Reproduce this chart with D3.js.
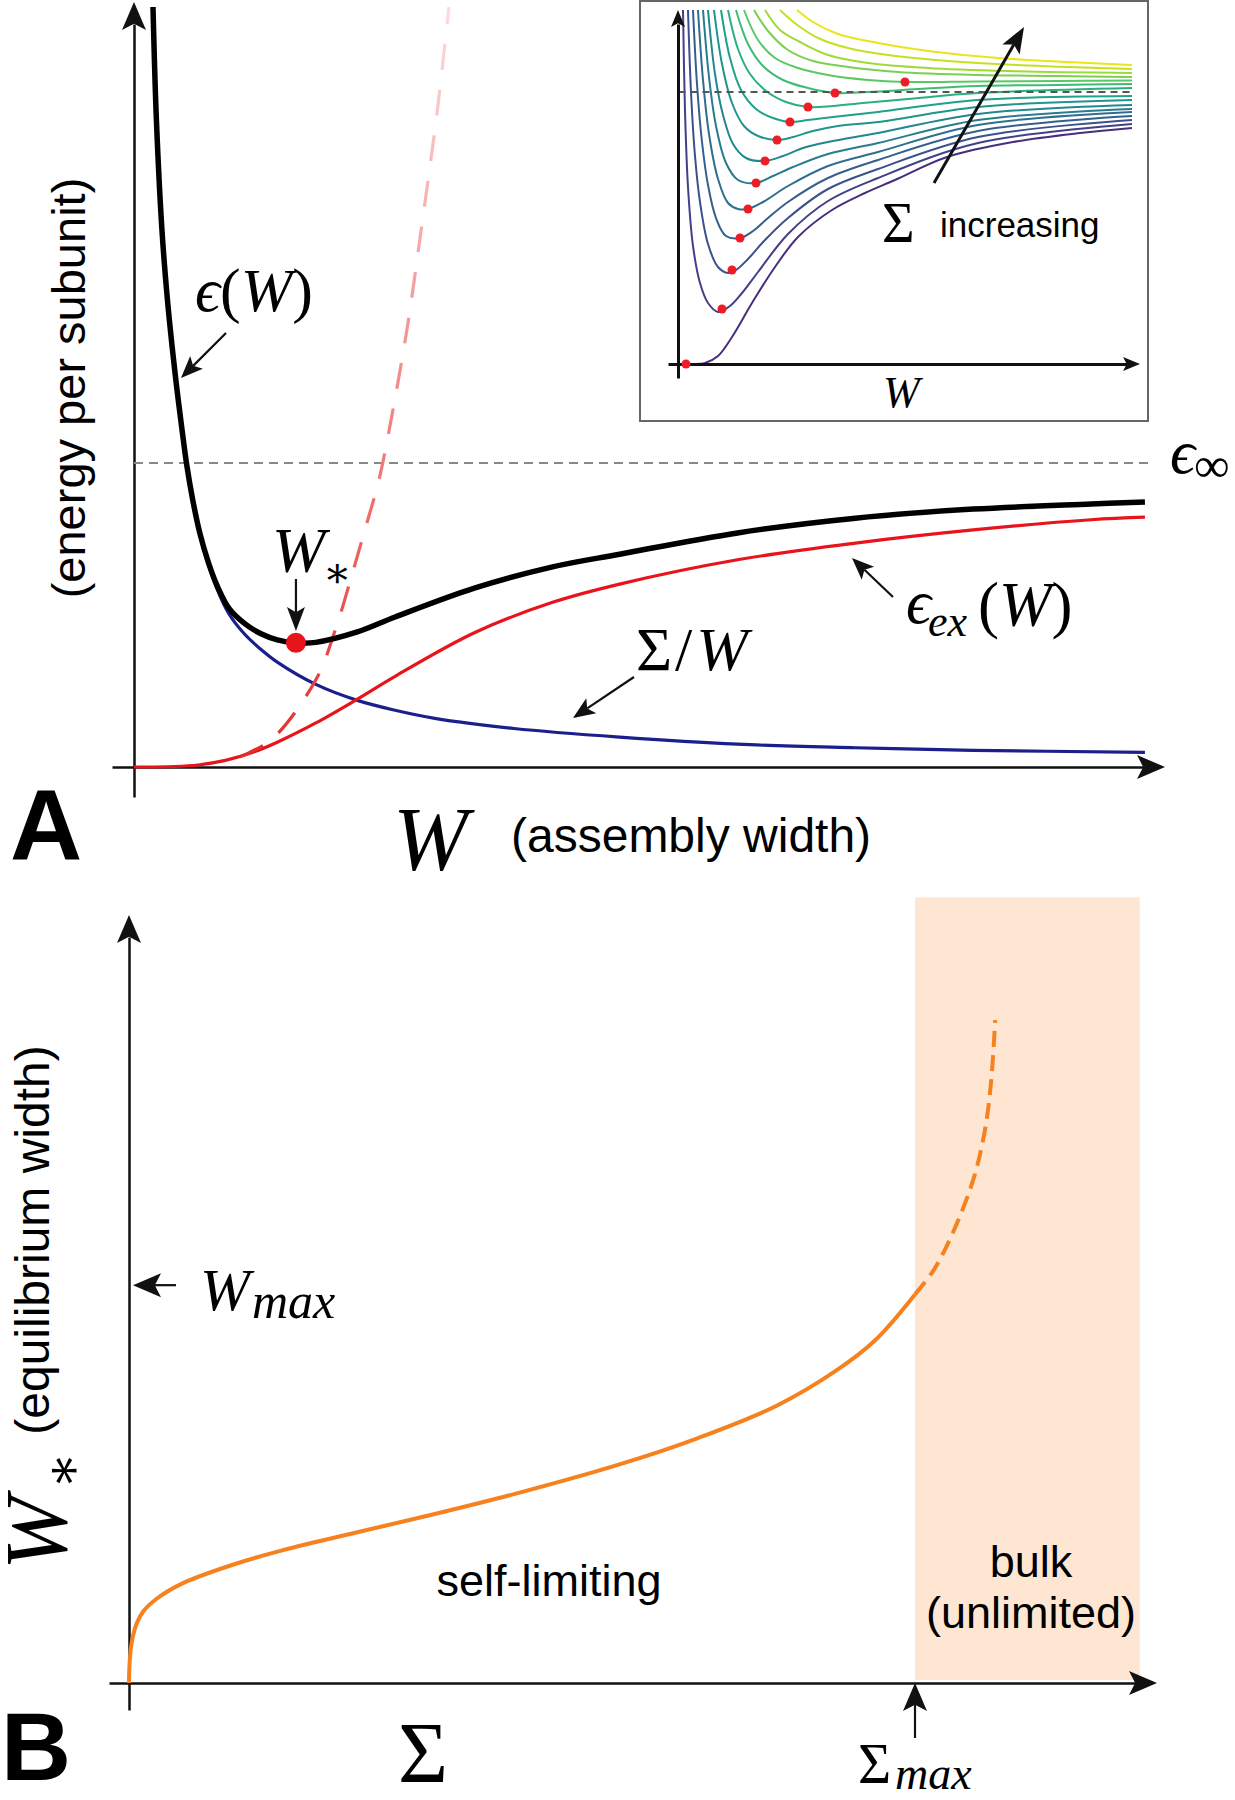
<!DOCTYPE html>
<html><head><meta charset="utf-8">
<script src="https://cdn.jsdelivr.net/npm/d3@7"></script>
<style>html,body{margin:0;padding:0;background:#fff;} svg{display:block;}</style>
</head><body><svg id="fig" width="1235" height="1800"></svg>
<script>
// ---------------- DATA (arbitrary schematic units) ----------------
// Panel A: W (0..100) vs energy per subunit (0..150)
const epsTotal = [[1.87,150],[2.2,128],[2.75,106],[3.3,92],[3.75,83],[4.2,75],[4.7,67],[5.2,59.5],[5.8,52.5],[6.5,46],[7.3,40.5],[8.2,35.7],[9.35,31.3],[10.9,28.3],[12.5,26.3],[14.1,25.1],[15.94,24.5],[17.9,24.6],[21.9,26.6],[25.7,29.6],[33.5,35.3],[41.2,39.5],[47.8,42.0],[59.4,46.2],[71,49.1],[82.6,50.9],[94.2,51.9],[99.5,52.3]];
const epsEx = [[0,0],[4,0.1],[6.3,0.4],[9,1.3],[11.7,2.9],[14.1,4.9],[17.9,8.7],[21.9,13.3],[25.7,17.9],[33.5,26.5],[41.2,32.5],[47.8,36.1],[59.4,40.9],[71,44.2],[82.6,46.8],[94.2,48.8],[99.5,49.3]];
const epsExBare = [[10.4,2],[11.3,2.8],[13.7,5.7],[17.9,17.2],[19.9,27.6],[21.5,38.3],[23.0,48.7],[24.1,56.6],[25.3,68.5],[26.9,86.8],[28.4,108],[29.8,128.7],[31.0,150]];
const sigmaOverW = [[5.8,52.3],[6.5,45.8],[7.3,40.1],[8.2,35],[9.35,30.2],[10.9,26.2],[12.5,23.2],[14.1,20.7],[17.9,16.3],[21.9,13.2],[25.7,11.2],[29.6,9.6],[37.4,7.6],[47.8,5.9],[59.4,4.5],[71,3.8],[82.6,3.3],[99.5,2.9]];
const epsInf = 60;
const wStarA = [15.94, 24.5];

// Inset: W (0..454) vs energy (0..354), one curve per Sigma value (increasing)
const insetCurves = [
  [[0,0],[14,0],[27,1],[40,8],[54,27],[74,61],[97,97],[120,127],[154,154],[187,171],[217,184],[269,207],[335,222],[402,231],[454,236]],
  [[5,354],[7,253],[10,177],[15,118],[22,81],[30,61],[40,52],[52,58],[64,71],[80,92],[110,130],[150,163],[200,186],[300,221],[454,240]],
  [[10,354],[13,272],[17,208],[22,162],[30,120],[40,97],[50,91],[58,94],[70,105],[87,124],[110,146],[150,175],[200,195],[300,227],[454,244]],
  [[15,354],[19,280],[24,222],[30,179],[38,146],[48,128],[62,126],[75,133],[90,146],[110,162],[150,186],[200,204],[300,233],[454,248]],
  [[20,354],[25,284],[31,230],[40,185],[50,161],[60,155],[70,155],[85,162],[110,178],[150,198],[200,212],[300,239],[454,252]],
  [[25,354],[31,287],[38,238],[48,201],[60,184],[78,181],[95,188],[115,197],[150,210],[200,221],[300,244],[454,255]],
  [[30,354],[37,290],[45,249],[55,220],[68,206],[87,203],[105,208],[125,216],[150,222],[200,231],[300,250],[454,259]],
  [[36,354],[44,300],[54,261],[66,238],[80,228],[99,224],[115,227],[135,233],[160,238],[200,242],[300,257],[454,264]],
  [[43,354],[52,306],[63,274],[78,255],[95,246],[112,242],[130,244],[155,247],[200,252],[300,264],[454,268]],
  [[50,354],[60,315],[72,290],[88,273],[108,262],[130,257],[155,258],[185,261],[230,265],[300,271],[454,276]],
  [[58,354],[70,320],[85,298],[105,284],[130,276],[157,271],[190,272],[240,275],[300,278],[380,279],[454,280]],
  [[66,354],[80,324],[97,306],[120,296],[150,289],[190,284],[227,282],[300,282.5],[380,283],[454,283.5]],
  [[76,354],[90,333],[110,314],[135,303],[170,297],[220,292],[300,289],[380,288],[454,287]],
  [[87,354],[102,334],[122,322],[150,309],[190,301],[250,296],[330,293],[454,291]],
  [[102,354],[118,340],[140,326],[170,316],[210,309],[270,303],[350,298.5],[454,295]],
  [[119,354],[135,342],[160,330],[200,321],[250,313],[320,306],[390,302],[454,299]]
];
const insetMinima = [[8,0],[44,55],[54,94],[62,126],[70,155],[78,181],[87,203],[99,224],[112,242],[130,257],[157,271],[227,282]];
const insetEpsInf = 272;

// Panel B: Sigma (0..) vs W* (0..)
const wStarSolid = [[0,0],[0.05,2],[0.2,4.2],[0.5,6.1],[1.0,7.8],[1.8,9.3],[3.56,11.0],[6.87,13.0],[13.2,15.4],[19.6,17.3],[28.9,19.6],[38.9,22.0],[49.0,24.6],[62.5,28.5],[72.4,31.9],[82.4,36.1],[90.0,40.7],[94.9,44.6],[100,50.6]];
const wStarDashed = [[100,50.6],[102.4,53.8],[104.8,58.6],[107.4,65.5],[108.9,72],[109.7,78.5],[110.2,86.3]];
const sigmaMax = 100;
const wMax = 51.8;
const bulkRange = [100, 128.6];
const bulkTop = 102.3;

// ---------------- LAYOUT ----------------
const SERIF = "'Liberation Serif','DejaVu Serif','Times New Roman',serif";
const SANS = "'Liberation Sans',Arial,Helvetica,sans-serif";
const svg = d3.select('#fig');
svg.append('rect').attr('width',1235).attr('height',1800).attr('fill','#fff');

const xA = d3.scaleLinear().domain([0,100]).range([134,1150]);
const yA = d3.scaleLinear().domain([0,150]).range([767,7]);
const xI = d3.scaleLinear().domain([0,454]).range([678,1132]);
const yI = d3.scaleLinear().domain([0,354]).range([364,10]);
const xB = d3.scaleLinear().domain([0,100]).range([129,915]);
const yB = d3.scaleLinear().domain([0,100]).range([1683,915]);

function head(g, x1,y1,x2,y2,len,hw,col){
  const dx=x2-x1, dy=y2-y1, L=Math.hypot(dx,dy), ux=dx/L, uy=dy/L, px=-uy, py=ux;
  const bx=x2-ux*len, by=y2-uy*len, nx=x2-ux*len*0.78, ny=y2-uy*len*0.78;
  g.append('path').attr('d',`M${x2},${y2}L${bx+px*hw},${by+py*hw}L${nx},${ny}L${bx-px*hw},${by-py*hw}Z`).attr('fill',col||'#111');
  return [nx,ny];
}
function arrow(g,x1,y1,x2,y2,len,hw,w){
  const n = head(g,x1,y1,x2,y2,len,hw);
  g.append('line').attr('x1',x1).attr('y1',y1).attr('x2',n[0]).attr('y2',n[1]).attr('stroke','#111').attr('stroke-width',w||2);
}
function hAxis(g, scale, y, p0, p1, w){
  const s = scale.copy().domain([scale.invert(p0), scale.invert(p1)]).range([p0,p1]);
  const ax = g.append('g').attr('transform',`translate(0,${y})`).call(d3.axisBottom(s).tickValues([]).tickSizeOuter(0));
  ax.select('.domain').attr('stroke','#111').attr('stroke-width',w);
}
function vAxis(g, scale, x, p0, p1, w){
  const s = scale.copy().domain([scale.invert(p0), scale.invert(p1)]).range([p0,p1]);
  const ax = g.append('g').attr('transform',`translate(${x},0)`).call(d3.axisLeft(s).tickValues([]).tickSizeOuter(0));
  ax.select('.domain').attr('stroke','#111').attr('stroke-width',w);
}

// ---------------- PANEL A ----------------
const gA = svg.append('g');
const defs = svg.append('defs');
const grad = defs.append('linearGradient').attr('id','fadeRed').attr('gradientUnits','userSpaceOnUse')
  .attr('x1',0).attr('y1',yA(0)).attr('x2',0).attr('y2',yA(150));
grad.append('stop').attr('offset',0).attr('stop-color','#e02a2a');
grad.append('stop').attr('offset',0.4).attr('stop-color','#f07a78');
grad.append('stop').attr('offset',1).attr('stop-color','#fcdcdc');

hAxis(gA, xA, yA(0), 112, 1145, 2.5);
head(gA, 1100, yA(0), 1165, yA(0), 28, 12);
vAxis(gA, yA, xA(0), 797, 24, 2.5);
head(gA, xA(0), 100, xA(0), 2, 28, 12);

gA.append('line').attr('x1',xA(0)).attr('x2',xA(100)).attr('y1',yA(epsInf)).attr('y2',yA(epsInf))
  .attr('stroke','#888').attr('stroke-width',2).attr('stroke-dasharray','9,6');

const lineA = d3.line().x(d=>xA(d[0])).y(d=>yA(d[1])).curve(d3.curveCatmullRom.alpha(0.5));
gA.append('path').attr('d',lineA(sigmaOverW)).attr('fill','none').attr('stroke','#1a1f8c').attr('stroke-width',3.2);
gA.append('path').attr('d',lineA(epsEx)).attr('fill','none').attr('stroke','#e8141b').attr('stroke-width',3.2);
gA.append('path').attr('d',lineA(epsExBare)).attr('fill','none').attr('stroke','url(#fadeRed)').attr('stroke-width',3.2).attr('stroke-dasharray','26,20');
gA.append('path').attr('d',lineA(epsTotal)).attr('fill','none').attr('stroke','#000').attr('stroke-width',5.5).attr('stroke-linejoin','round');
gA.append('circle').attr('cx',xA(wStarA[0])).attr('cy',yA(wStarA[1])).attr('r',10).attr('fill','#e8141b');

gA.append('text').attr('x',10).attr('y',860).attr('font-family',SANS).attr('font-weight','bold').attr('font-size',100).text('A');
gA.append('text').attr('transform','translate(85,388) rotate(-90)').attr('text-anchor','middle')
  .attr('font-family',SANS).attr('font-size',47).text('(energy per subunit)');
gA.append('text').attr('x',393).attr('y',870).attr('font-family',SERIF).attr('font-style','italic').attr('font-size',90).text('W');
gA.append('text').attr('x',511).attr('y',852).attr('font-family',SANS).attr('font-size',48).text('(assembly width)');

let t = gA.append('text').attr('x',195).attr('y',311).attr('font-family',SERIF).attr('font-size',62);
t.append('tspan').attr('font-style','italic').text('ϵ');
t.append('tspan').text('(');
t.append('tspan').attr('font-style','italic').text('W');
t.append('tspan').text(')');
arrow(gA, 226,333, 181,378, 22, 9, 2.2);

gA.append('text').attr('x',272).attr('y',572).attr('font-family',SERIF).attr('font-style','italic').attr('font-size',64).text('W');
gA.append('text').attr('x',323).attr('y',587).attr('font-family',SERIF).attr('font-size',42).text('∗');
arrow(gA, xA(wStarA[0]),579, xA(wStarA[0]),631, 24, 9, 2.2);

t = gA.append('text').attr('x',636).attr('y',670).attr('font-family',SERIF).attr('font-size',62);
t.append('tspan').text('Σ');
t.append('tspan').attr('dx',3).text('/');
t.append('tspan').attr('dx',4).attr('font-style','italic').text('W');
arrow(gA, 634,677, 573,718, 22, 9, 2.2);

gA.append('text').attr('x',906).attr('y',623).attr('font-family',SERIF).attr('font-style','italic').attr('font-size',62).text('ϵ');
gA.append('text').attr('x',928).attr('y',636).attr('font-family',SERIF).attr('font-style','italic').attr('font-size',44).text('ex');
t = gA.append('text').attr('x',978).attr('y',626).attr('font-family',SERIF).attr('font-size',63);
t.append('tspan').text('(');
t.append('tspan').attr('font-style','italic').text('W');
t.append('tspan').text(')');
arrow(gA, 893,597, 852,558, 22, 9, 2.2);

gA.append('text').attr('x',1170).attr('y',473).attr('font-family',SERIF).attr('font-style','italic').attr('font-size',62).text('ϵ');
gA.append('text').attr('x',1194).attr('y',482).attr('font-family',SERIF).attr('font-size',50).text('∞');

// ---------------- INSET ----------------
const gI = svg.append('g');
gI.append('rect').attr('x',640).attr('y',1).attr('width',508).attr('height',420).attr('fill','#fff').attr('stroke','#666').attr('stroke-width',2);
const color = d3.scaleSequential(d3.interpolateViridis).domain([-2.4, insetCurves.length-0.4]);
const lineI = d3.line().x(d=>xI(d[0])).y(d=>yI(d[1])).curve(d3.curveCatmullRom.alpha(0.5));
insetCurves.forEach((c,i)=>{
  gI.append('path').attr('d',lineI(c)).attr('fill','none').attr('stroke',color(i)).attr('stroke-width',2);
});
gI.append('line').attr('x1',xI(0.5)).attr('x2',xI(454)).attr('y1',yI(insetEpsInf)).attr('y2',yI(insetEpsInf))
  .attr('stroke','#555').attr('stroke-width',2).attr('stroke-dasharray','7,5');
hAxis(gI, xI, yI(0), 668, 1128, 3);
head(gI, 1100, yI(0), 1140, yI(0), 17, 7);
vAxis(gI, yI, xI(0), 378, 24, 3);
head(gI, xI(0), 60, xI(0), 10, 17, 7);
gI.selectAll('circle.min').data(insetMinima).enter().append('circle').attr('class','min')
  .attr('cx',d=>xI(d[0])).attr('cy',d=>yI(d[1])).attr('r',4.5).attr('fill','#ee1c24');
gI.append('text').attr('x',883).attr('y',407).attr('font-family',SERIF).attr('font-style','italic').attr('font-size',44).text('W');
gI.append('text').attr('x',882).attr('y',242).attr('font-family',SERIF).attr('font-size',56).text('Σ');
gI.append('text').attr('x',940).attr('y',237).attr('font-family',SANS).attr('font-size',35).text('increasing');
arrow(gI, 934,183, 1024,27, 26, 10, 3);

// ---------------- PANEL B ----------------
const gB = svg.append('g');
gB.append('rect').attr('x',xB(bulkRange[0])).attr('y',yB(bulkTop)).attr('width',xB(bulkRange[1])-xB(bulkRange[0]))
  .attr('height',yB(0)-3-yB(bulkTop)).attr('fill','#fee6d3');
hAxis(gB, xB, yB(0), 109, 1137, 2.5);
head(gB, 1100, yB(0), 1157, yB(0), 28, 12);
vAxis(gB, yB, xB(0), 1710, 937, 2.5);
head(gB, xB(0), 1000, xB(0), 915, 28, 12);

const lineB = d3.line().x(d=>xB(d[0])).y(d=>yB(d[1])).curve(d3.curveCatmullRom.alpha(0.5));
gB.append('path').attr('d',lineB(wStarSolid)).attr('fill','none').attr('stroke','#f5821f').attr('stroke-width',4);
gB.append('path').attr('d',lineB(wStarDashed)).attr('fill','none').attr('stroke','#f5821f').attr('stroke-width',4).attr('stroke-dasharray','16,8');

gB.append('text').attr('x',1).attr('y',1780).attr('font-family',SANS).attr('font-weight','bold').attr('font-size',97).text('B');
gB.append('text').attr('transform','translate(49,1240) rotate(-90)').attr('text-anchor','middle')
  .attr('font-family',SANS).attr('font-size',48).text('(equilibrium width)');
const gW = gB.append('g').attr('transform','translate(66,1570) rotate(-90)');
gW.append('text').attr('x',0).attr('y',0).attr('font-family',SERIF).attr('font-style','italic').attr('font-size',88).text('W');
gW.append('text').attr('x',81).attr('y',15).attr('font-family',SERIF).attr('font-size',54).text('∗');

arrow(gB, 176,yB(wMax), xB(0)+4,yB(wMax), 28, 12, 2.2);
gB.append('text').attr('x',200).attr('y',1310).attr('font-family',SERIF).attr('font-style','italic').attr('font-size',60).text('W');
gB.append('text').attr('x',252).attr('y',1318).attr('font-family',SERIF).attr('font-style','italic').attr('font-size',50).text('max');

gB.append('text').attr('x',549).attr('y',1596).attr('text-anchor','middle').attr('font-family',SANS).attr('font-size',45).text('self-limiting');
gB.append('text').attr('x',1031).attr('y',1577).attr('text-anchor','middle').attr('font-family',SANS).attr('font-size',45).text('bulk');
gB.append('text').attr('x',1031).attr('y',1628).attr('text-anchor','middle').attr('font-family',SANS).attr('font-size',45).text('(unlimited)');

gB.append('text').attr('x',398).attr('y',1782).attr('font-family',SERIF).attr('font-size',86).text('Σ');
arrow(gB, xB(sigmaMax),1738, xB(sigmaMax),yB(0), 28, 12, 2.2);
gB.append('text').attr('x',858).attr('y',1783).attr('font-family',SERIF).attr('font-size',57).text('Σ');
gB.append('text').attr('x',895).attr('y',1789).attr('font-family',SERIF).attr('font-style','italic').attr('font-size',46).text('max');
</script></body></html>
